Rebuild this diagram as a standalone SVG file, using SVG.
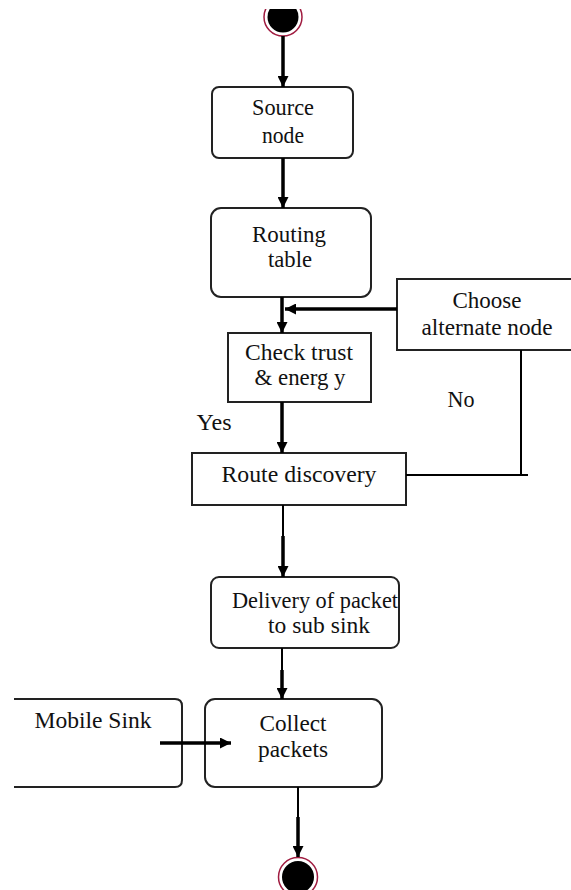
<svg xmlns="http://www.w3.org/2000/svg" width="571" height="890" viewBox="0 0 571 890">
<style>
.box{fill:#fff;stroke:#222;stroke-width:2}
.t{font-family:"Liberation Serif","Times New Roman",serif;font-size:23px;fill:#111;text-anchor:middle}
.c{stroke:#000;fill:none}
.thick{stroke-width:3.5}
.thin{stroke-width:2}
</style>
<defs>
<marker id="ah" viewBox="0 0 10 10" refX="10" refY="5" markerWidth="11" markerHeight="11" markerUnits="userSpaceOnUse" orient="auto">
<path d="M0,0 L10,5 L0,10 Z" fill="#000"/>
</marker>
<clipPath id="topclip"><rect x="0" y="9" width="571" height="60"/></clipPath>
</defs>
<rect width="571" height="890" fill="#fff"/>
<g id="start" clip-path="url(#topclip)">
<circle cx="283" cy="17" r="19" fill="#fff" stroke="#a01c40" stroke-width="1.5"/>
<circle cx="283" cy="17" r="15.5" fill="#000"/>
</g>
<g id="source">
<rect class="box" x="212" y="87" width="141" height="71" rx="7"/>
<text class="t" x="283" y="115" textLength="62" lengthAdjust="spacingAndGlyphs">Source</text>
<text class="t" x="283" y="143" textLength="42" lengthAdjust="spacingAndGlyphs">node</text>
</g>
<g id="routing">
<rect class="box" x="211" y="208" width="160" height="89" rx="10"/>
<text class="t" x="289" y="242" textLength="74" lengthAdjust="spacingAndGlyphs">Routing</text>
<text class="t" x="290" y="267" textLength="44" lengthAdjust="spacingAndGlyphs">table</text>
</g>
<g id="choose">
<rect class="box" x="397" y="279" width="180" height="71"/>
<text class="t" x="487" y="308" textLength="69" lengthAdjust="spacingAndGlyphs">Choose</text>
<text class="t" x="487" y="335" textLength="131" lengthAdjust="spacingAndGlyphs">alternate node</text>
</g>
<g id="check">
<rect class="box" x="228" y="333" width="143" height="69"/>
<text class="t" x="299" y="360" textLength="108" lengthAdjust="spacingAndGlyphs">Check trust</text>
<text class="t" x="300" y="385" textLength="91" lengthAdjust="spacingAndGlyphs">&amp; energ y</text>
</g>
<g id="labels">
<text class="t" x="214" y="430" textLength="35" lengthAdjust="spacingAndGlyphs">Yes</text>
<text class="t" x="461" y="407" textLength="27" lengthAdjust="spacingAndGlyphs">No</text>
</g>
<g id="route">
<rect class="box" x="192" y="453" width="214" height="52"/>
<text class="t" x="299" y="482" textLength="155" lengthAdjust="spacingAndGlyphs">Route discovery</text>
</g>
<g id="delivery">
<rect class="box" x="211" y="577" width="188" height="71" rx="8"/>
<text class="t" x="315" y="608" textLength="166" lengthAdjust="spacingAndGlyphs">Delivery of packet</text>
<text class="t" x="319" y="633" textLength="102" lengthAdjust="spacingAndGlyphs">to sub sink</text>
</g>
<g id="mobile">
<path d="M14,699 H175 Q182,699 182,706 V780 Q182,787 175,787 H14" fill="#fff" stroke="#222" stroke-width="2"/>
<text class="t" x="93" y="728" textLength="117" lengthAdjust="spacingAndGlyphs">Mobile Sink</text>
</g>
<g id="collect">
<rect class="box" x="205" y="699" width="177" height="88" rx="10"/>
<text class="t" x="293" y="731" textLength="67" lengthAdjust="spacingAndGlyphs">Collect</text>
<text class="t" x="293" y="757" textLength="70" lengthAdjust="spacingAndGlyphs">packets</text>
</g>
<g id="end">
<circle cx="298" cy="877" r="19.5" fill="#fff" stroke="#a01c40" stroke-width="1.5"/>
<circle cx="298" cy="877" r="16" fill="#000"/>
</g>
<g id="connectors">
<line class="c thick" x1="283" y1="36" x2="283" y2="87" marker-end="url(#ah)"/>
<line class="c thick" x1="283" y1="158" x2="283" y2="208" marker-end="url(#ah)"/>
<line class="c thick" x1="282" y1="297" x2="282" y2="333" marker-end="url(#ah)"/>
<line class="c thick" x1="397" y1="309" x2="285" y2="309" marker-end="url(#ah)"/>
<line class="c thick" x1="282" y1="402" x2="282" y2="453" marker-end="url(#ah)"/>
<polyline class="c thin" points="406,475 528,475"/>
<line class="c thin" x1="521" y1="475" x2="521" y2="350"/>
<line class="c thin" x1="283" y1="505" x2="283" y2="536"/>
<line class="c thick" x1="283" y1="536" x2="283" y2="577" marker-end="url(#ah)"/>
<line class="c thin" x1="282" y1="648" x2="282" y2="670"/>
<line class="c thick" x1="282" y1="670" x2="282" y2="699" marker-end="url(#ah)"/>
<line class="c thick" x1="160" y1="743" x2="231" y2="743" marker-end="url(#ah)"/>
<line class="c thin" x1="298" y1="787" x2="298" y2="817"/>
<line class="c thick" x1="298" y1="817" x2="298" y2="857" marker-end="url(#ah)"/>
</g>
</svg>
